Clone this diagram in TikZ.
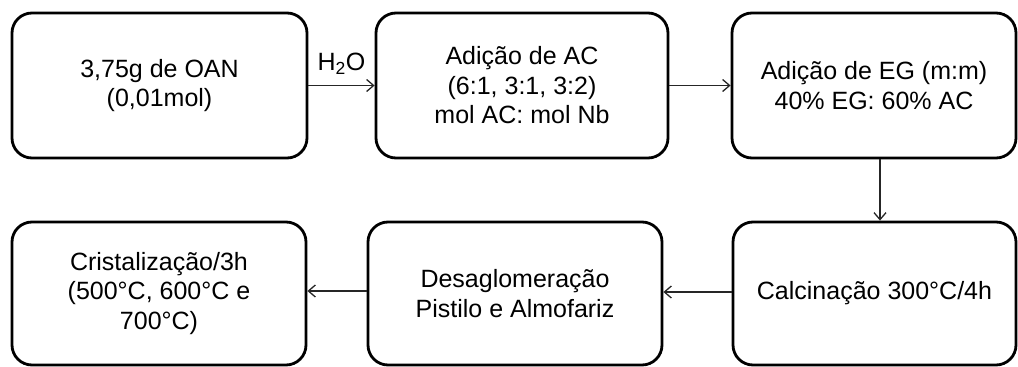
\documentclass[tikz,border=0pt]{standalone}
\usepackage{fontspec}
\setmainfont{Liberation Sans}
\usetikzlibrary{arrows.meta}

\tikzset{
  stepbox/.style={draw=black, line width=2.8pt, rounded corners=20pt,
    minimum height=145pt, inner sep=4pt, align=center,
    font=\fontsize{25}{29.5}\selectfont},
  flow/.style={draw=black!85, line width=1.3pt,
    -{Straight Barb[length=7pt,width=12pt,line width=1.3pt]}},
}

\begin{document}
\begin{tikzpicture}[x=1pt,y=-1pt]
\useasboundingbox (0,0) rectangle (1018,367);

% upper row
\node[stepbox, minimum width=295pt] (oan)  at (159.5,85.5) {3,75g de OAN\\(0,01mol)};
\node[stepbox, minimum width=292pt] (ac)   at (522,85.5)   {Adição de AC\\(6:1, 3:1, 3:2)\\mol AC: mol Nb};
\node[stepbox, minimum width=284pt] (eg)   at (874,85.5)   {Adição de EG (m:m)\\40\% EG: 60\% AC};

% lower row
\node[stepbox, minimum width=283pt, minimum height=143pt] (calc) at (874.5,293.5) {Calcinação 300°C/4h};
\node[stepbox, minimum width=294pt, minimum height=143pt] (desa) at (515,293.5)   {Desaglomeração\\Pistilo e Almofariz};
\node[stepbox, minimum width=294pt, minimum height=143pt] (cris) at (159,293.5)   {Cristalização/3h\\(500°C, 600°C e\\700°C)};

% connectors
\draw[flow] (oan.east) -- node[above=7pt, font=\fontsize{25}{29}\selectfont] (water) {H\textsubscript{2}O} (ac.west);
\draw[flow] (ac.east) -- (eg.west);
\coordinate (down) at ([xshift=6pt]eg.south);
\draw[flow] (down) -- (down |- calc.north);
\draw[flow] ([yshift=1.5pt]calc.west) -- ([yshift=1.5pt]desa.east);
\draw[flow] ([yshift=2.5pt]desa.west) -- ([yshift=2.5pt]cris.east);
\end{tikzpicture}
\end{document}
